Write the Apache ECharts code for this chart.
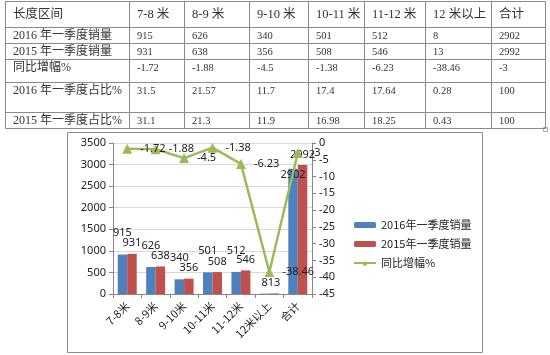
<!DOCTYPE html>
<html>
<head>
<meta charset="utf-8">
<script src="https://cdn.jsdelivr.net/npm/echarts@6/dist/echarts.min.js"></script>
<style>
  html, body { margin: 0; padding: 0; background: #fff; }
  #main { position: absolute; left: 0; top: 0; width: 550px; height: 355px; }
  #tbl {
    position: absolute; left: 5px; top: 1px; width: 541px;
    border-collapse: collapse; table-layout: fixed;
    font-family: "Liberation Serif", "Noto Sans CJK SC", serif;
    color: #333;
  }
  #tbl td {
    border: 1px solid #8a8a8a; padding: 0 0 0 7px;
    vertical-align: top; line-height: 15px; font-size: 10.5px;
    white-space: nowrap; overflow: hidden;
  }
  #tbl td.rh { font-size: 12px; }
  #tbl tr.head td { font-size: 12.5px; vertical-align: middle; }
</style>
</head>
<body>
<div id="main"></div>
<table id="tbl"></table>
<script>
var categories = ['7-8米', '8-9米', '9-10米', '10-11米', '11-12米', '12米以上', '合计'];
var sales2016 = [915, 626, 340, 501, 512, 8, 2902];
var sales2015 = [931, 638, 356, 508, 546, 13, 2992];
var yoy = [-1.72, -1.88, -4.5, -1.38, -6.23, -38.46, -3];
var share2016 = [31.5, 21.57, 11.7, 17.4, 17.64, 0.28, 100];
var share2015 = [31.1, 21.3, 11.9, 16.98, 18.25, 0.43, 100];
var seriesNames = ['2016年一季度销量', '2015年一季度销量', '同比增幅%'];
var rowNames = ['2016年一季度销量', '2015年一季度销量', '同比增幅%', '2016年一季度占比%', '2015年一季度占比%'];
var leftTicks = [0, 3500, 500];
var rightTicks = [-45, 0, 5];

// table above the chart
var colWidths = [124, 55, 65, 59, 56, 61, 66, 54];
var rowHeights = [26, 16, 16, 23, 30, 15];
var spaced = function (s) { return s.replace(/(\d)([^\d.\-%])/, '$1 $2'); };
var rows = [sales2016, sales2015, yoy, share2016, share2015];
var html = '<colgroup>' + colWidths.map(function (w) { return '<col style="width:' + w + 'px">'; }).join('') + '</colgroup>';
html += '<tr class="head" style="height:' + rowHeights[0] + 'px"><td>长度区间</td>' +
  categories.map(function (c) { return '<td>' + spaced(c) + '</td>'; }).join('') + '</tr>';
rows.forEach(function (r, i) {
  html += '<tr style="height:' + rowHeights[i + 1] + 'px"><td class="rh">' + spaced(rowNames[i]) + '</td>' +
    r.map(function (v) { return '<td>' + v + '</td>'; }).join('') + '</tr>';
});
document.getElementById('tbl').innerHTML = html;

var myChart = echarts.init(document.getElementById('main'));
var txt = { color: '#222', fontSize: 11, fontFamily: 'Noto Sans, Noto Sans CJK SC' };
var plain = function (v) { return String(v); };

// the excel labels on the small and the total bar sit differently
var blueLabelFix = { '12米以上': { distance: 5 }, '合计': { position: 'insideTop', distance: 1 } };
var blueData = sales2016.map(function (v, i) {
    var fix = blueLabelFix[categories[i]];
    return fix ? { value: v, label: fix } : v;
});

option = {
    animation: false,
    graphic: [
        { type: 'rect', shape: { x: 67.5, y: 132.5, width: 415, height: 220 },
          style: { fill: 'none', stroke: '#8c8c8c', lineWidth: 1 } },
        { type: 'rect', shape: { x: 543.5, y: 127.5, width: 4, height: 4 },
          style: { fill: '#fff', stroke: '#aaa', lineWidth: 1 } }
    ],
    legend: {
        orient: 'vertical',
        left: 353,
        top: 218,
        padding: 0,
        itemWidth: 22,
        itemHeight: 6,
        itemGap: 5,
        textStyle: { color: '#222', fontSize: 11, lineHeight: 14, fontFamily: 'Noto Sans CJK SC' },
        data: seriesNames
    },
    grid: { left: 113, top: 143, width: 199, height: 151 },
    xAxis: {
        type: 'category',
        data: categories,
        axisLine: { lineStyle: { color: '#868686' } },
        axisTick: { show: true, length: 4, lineStyle: { color: '#868686' } },
        axisLabel: { rotate: 45, margin: 10, interval: 0, color: '#222', fontSize: 11, fontFamily: 'Noto Sans CJK SC' }
    },
    yAxis: [
        {
            type: 'value', min: leftTicks[0], max: leftTicks[1], interval: leftTicks[2],
            axisLine: { show: true, lineStyle: { color: '#868686' } },
            axisTick: { show: true, length: 4, lineStyle: { color: '#868686' } },
            splitLine: { lineStyle: { color: '#d9d9d9' } },
            axisLabel: Object.assign({ margin: 7, formatter: plain }, txt)
        },
        {
            type: 'value', position: 'right', min: rightTicks[0], max: rightTicks[1], interval: rightTicks[2],
            axisLine: { show: true, lineStyle: { color: '#868686' } },
            axisTick: { show: true, length: 4, lineStyle: { color: '#868686' } },
            splitLine: { show: false },
            axisLabel: Object.assign({ margin: 7, formatter: plain }, txt)
        }
    ],
    series: [
        {
            name: seriesNames[0],
            type: 'bar',
            data: blueData,
            barWidth: 9.5,
            barGap: '0%',
            itemStyle: { color: '#4f81bd' },
            label: Object.assign({ show: true, position: 'top', distance: 16 }, txt)
        },
        {
            name: seriesNames[1],
            type: 'bar',
            data: sales2015,
            barWidth: 9.5,
            barGap: '0%',
            itemStyle: { color: '#c0504d' },
            label: Object.assign({ show: true, position: 'top', distance: 5 }, txt)
        },
        {
            name: seriesNames[2],
            type: 'line',
            yAxisIndex: 1,
            data: yoy,
            symbol: 'triangle',
            symbolSize: 10,
            lineStyle: { color: '#9bbb59', width: 2.5 },
            itemStyle: { color: '#9bbb59' },
            label: Object.assign({ show: true, position: 'right', distance: 8 }, txt)
        }
    ]
};

myChart.setOption(option);
</script>
</body>
</html>
